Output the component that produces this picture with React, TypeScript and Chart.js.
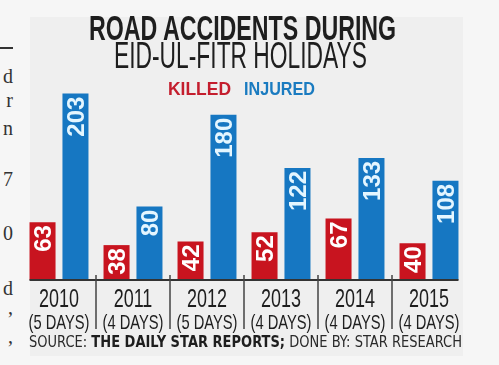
import React, { useEffect, useRef } from "react";
import { Chart, registerables } from "chart.js";

Chart.register(...registerables);

// ---- data ----
const YEARS = ["2010", "2011", "2012", "2013", "2014", "2015"];
const DAYS = ["(5 DAYS)", "(4 DAYS)", "(5 DAYS)", "(4 DAYS)", "(4 DAYS)", "(4 DAYS)"];
const KILLED = [63, 38, 42, 52, 67, 40];
const INJURED = [203, 80, 180, 122, 133, 108];
const SERIES_NAMES = ["KILLED", "INJURED"];
const TITLE = "ROAD ACCIDENTS DURING";
const SUBTITLE = "EID-UL-FITR HOLIDAYS";
const SOURCE = ["SOURCE: ", "THE DAILY STAR REPORTS;", " DONE BY: STAR RESEARCH"];
const MARGIN_TEXT = ["d", "r", "n", "7", "0", "d", ",", ","];

const RED = "#c8141f";
const BLUE = "#1677c2";
const SANS = '"Liberation Sans", Arial, sans-serif';

let measureCtx: CanvasRenderingContext2D | null = null;
function measure(font: string, text: string) {
  if (!measureCtx) measureCtx = document.createElement("canvas").getContext("2d");
  measureCtx!.font = font;
  return measureCtx!.measureText(text).width;
}

const overlayPlugin = {
  id: "overlay",
  afterDatasetsDraw(chart: any) {
    const ctx: CanvasRenderingContext2D = chart.ctx;
    const xs = chart.scales.x;
    const m0 = chart.getDatasetMeta(0);
    const m1 = chart.getDatasetMeta(1);
    const base = m0.data[0].base;
    const n = chart.data.labels.length;

    // value labels, rotated, inside bar tops
    const labelColors = ["#ffffff", "#e4f6ff"];
    chart.data.datasets.forEach((ds: any, di: number) => {
      const meta = chart.getDatasetMeta(di);
      meta.data.forEach((el: any, i: number) => {
        const size = 24;
        ctx.save();
        ctx.translate(el.x, el.y + 3);
        ctx.rotate(-Math.PI / 2);
        ctx.font = `bold ${size}px ${SANS}`;
        ctx.fillStyle = labelColors[di];
        ctx.textAlign = "right";
        ctx.textBaseline = "alphabetic";
        ctx.fillText(String(ds.data[i]), 0, size * 0.716 / 2);
        ctx.restore();
      });
    });

    // baseline
    const first = m0.data[0];
    const last = m1.data[n - 1];
    const left = first.x - first.width / 2;
    const right = last.x + last.width / 2;
    ctx.fillStyle = "#333333";
    ctx.fillRect(left, base - 1, right - left, 2);

    // separators between groups
    ctx.fillStyle = "#444444";
    for (let i = 0; i < n - 1; i++) {
      const sx = (xs.getPixelForValue(i) + xs.getPixelForValue(i + 1)) / 2;
      ctx.fillRect(sx - 0.75, base - 5, 1.5, 54);
    }

    // category labels (condensed)
    ctx.fillStyle = "#1e1e1e";
    ctx.textAlign = "center";
    ctx.textBaseline = "alphabetic";
    const yFont = `25px ${SANS}`;
    const dFont = `21px ${SANS}`;
    ctx.font = yFont;
    const ky = 40 / ctx.measureText("2010").width;
    ctx.font = dFont;
    const kd = 61 / ctx.measureText("(5 DAYS)").width;
    for (let i = 0; i < n; i++) {
      const cx = xs.getPixelForValue(i);
      ctx.save();
      ctx.translate(cx, base + 27);
      ctx.scale(ky, 1);
      ctx.font = yFont;
      ctx.fillText(YEARS[i], 0, 0);
      ctx.restore();
      ctx.save();
      ctx.translate(cx, base + 49);
      ctx.scale(kd, 1);
      ctx.font = dFont;
      ctx.fillText(DAYS[i], 0, 0);
      ctx.restore();
    }
  },
};

type Seg = { text: string; bold?: boolean; color?: string };

function FitText(props: {
  segs: Seg[];
  family: string;
  size: number;
  left: number;
  capTop: number;
  width: number;
  capRatio: number;
  baseRatio: number;
}) {
  const { segs, family, size, left, capTop, width, capRatio, baseRatio } = props;
  let natural = 0;
  segs.forEach((s) => {
    natural += measure(`${s.bold ? "bold " : ""}${size}px ${family}`, s.text);
  });
  const k = width / natural;
  const top = capTop - (baseRatio - capRatio) * size;
  return (
    <div
      style={{
        position: "absolute",
        left,
        top,
        whiteSpace: "pre",
        fontFamily: family,
        fontSize: size,
        lineHeight: `${size}px`,
        transform: `scaleX(${k})`,
        transformOrigin: "0 0",
      }}
    >
      {segs.map((s, i) => (
        <span key={i} style={{ fontWeight: s.bold ? "bold" : "normal", color: s.color || "#1e1e1e" }}>
          {s.text}
        </span>
      ))}
    </div>
  );
}

export default function App() {
  const ref = useRef<HTMLCanvasElement>(null);

  useEffect(() => {
    const chart = new Chart(ref.current as HTMLCanvasElement, {
      type: "bar",
      data: {
        labels: YEARS,
        datasets: [
          { label: SERIES_NAMES[0], data: KILLED, backgroundColor: RED, barPercentage: 0.79, categoryPercentage: 0.89 },
          { label: SERIES_NAMES[1], data: INJURED, backgroundColor: BLUE, barPercentage: 0.79, categoryPercentage: 0.89 },
        ],
      },
      options: {
        animation: false,
        responsive: false,
        devicePixelRatio: 1,
        layout: { padding: { left: 22, right: 33, top: 78, bottom: 85 } },
        scales: {
          x: { display: false },
          y: { display: false, min: 0, max: 220 },
        },
        plugins: { legend: { display: false }, tooltip: { enabled: false } },
      },
      plugins: [overlayPlugin],
    });
    return () => chart.destroy();
  }, []);

  const LS = { capRatio: 0.716, baseRatio: 0.8465 };
  const DV = { capRatio: 0.729, baseRatio: 0.846 };
  const marginTops = [83, 107, 135, 186, 240, 295, 314, 343];

  return (
    <div
      style={{
        position: "fixed",
        left: 0,
        top: 0,
        width: 499,
        height: 365,
        background: "#f6f6f6",
        overflow: "hidden",
      }}
    >
      <div style={{ position: "absolute", left: 30, top: 17, width: 433, height: 339, background: "#efefef" }} />
      {/* cut-off newspaper column at the left edge */}
      <div style={{ position: "absolute", left: 0, top: 47, width: 13, height: 1.5, background: "#333" }} />
      {MARGIN_TEXT.map((t, i) => (
        <div
          key={i}
          style={{
            position: "absolute",
            left: 0,
            width: 13,
            textAlign: "right",
            top: marginTops[i] - 16.75,
            fontFamily: '"Liberation Serif", serif',
            fontSize: 20,
            lineHeight: "20px",
            color: "#333",
          }}
        >
          {t}
        </div>
      ))}
      <canvas ref={ref} width={499} height={365} style={{ position: "absolute", left: 0, top: 0 }} />
      <FitText segs={[{ text: TITLE, bold: true }]} family={SANS} size={35} left={89} capTop={15} width={308} {...LS} />
      <FitText segs={[{ text: SUBTITLE }]} family={SANS} size={37} left={114} capTop={42} width={253} {...LS} />
      <FitText segs={[{ text: SERIES_NAMES[0], bold: true, color: "#c41e2e" }]} family={SANS} size={18} left={168} capTop={82} width={63} {...LS} />
      <FitText segs={[{ text: SERIES_NAMES[1], bold: true, color: "#1a7bc0" }]} family={SANS} size={18} left={244} capTop={82} width={71} {...LS} />
      <FitText
        segs={[
          { text: SOURCE[0], color: "#2a2a2a" },
          { text: SOURCE[1], bold: true, color: "#1e1e1e" },
          { text: SOURCE[2], color: "#2a2a2a" },
        ]}
        family='"DejaVu Sans", sans-serif'
        size={15}
        left={29}
        capTop={337}
        width={433}
        {...DV}
      />
    </div>
  );
}
